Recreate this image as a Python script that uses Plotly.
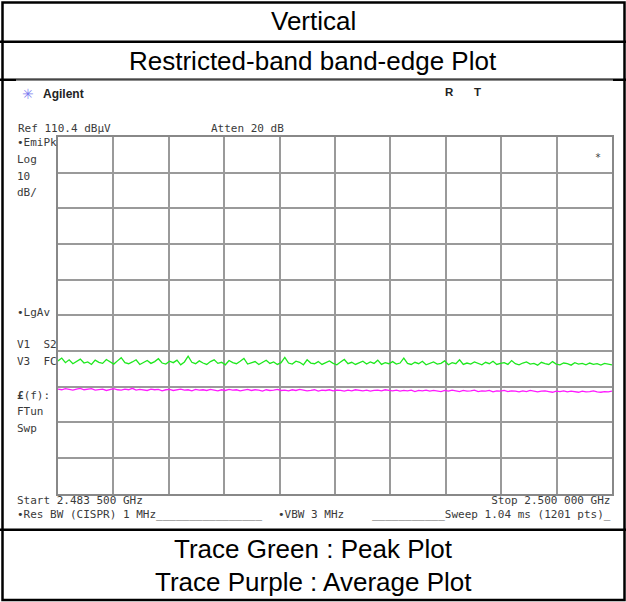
import numpy as np
import plotly.graph_objects as go

W, H = 626, 602

# ---------------- data ----------------
start_ghz = 2.4835
stop_ghz = 2.5000
ref_level = 110.4      # dBuV (top of screen)
db_per_div = 10

peak_trace = [
    47.6, 48.4, 47.1, 47.9, 46.8, 47.5, 48.1, 47.0, 47.3, 46.6, 47.8, 47.2, 46.9, 48.0, 47.4,
    46.7, 47.6, 48.5, 47.1, 46.8, 47.3, 47.9, 46.6, 47.2, 47.7, 46.9, 47.4, 48.2, 47.0, 46.7,
    47.5, 47.1, 47.8, 46.5, 47.3, 48.9, 47.2, 46.8, 47.6, 47.0, 46.6, 47.4, 47.9, 46.9, 47.2,
    46.5, 47.7, 47.1, 46.8, 47.5, 48.3, 46.7, 47.0, 47.4, 46.6, 47.2, 47.8, 46.9, 47.3, 46.6,
    47.1, 48.6, 47.0, 46.7, 47.5, 47.2, 46.5, 47.9, 47.0, 46.8, 47.4, 46.6, 47.1, 47.6, 46.9,
    46.5, 47.3, 48.0, 46.8, 47.2, 46.6, 47.0, 47.5, 46.7, 47.3, 46.9, 47.8, 46.6, 47.1, 46.8,
    47.4, 46.7, 47.0, 48.4, 46.9, 46.6, 47.2, 46.8, 47.5, 46.5, 47.0, 47.3, 46.7, 46.9, 47.6,
    46.5, 47.1, 46.8, 47.9, 46.6, 47.0, 46.7, 47.3, 46.9, 46.5, 47.2, 46.8, 47.5, 46.6, 46.9,
    47.1, 46.6, 47.7, 46.8, 46.5, 47.0, 47.3, 46.7, 46.9, 46.4, 47.2, 46.8, 46.6, 47.4, 46.7,
    46.5, 47.0, 46.8, 46.4, 47.1, 46.7, 46.9, 46.5, 47.0, 46.6, 46.8, 46.4, 46.9, 46.6, 46.5,
]

average_trace = [
    39.7, 39.5, 39.8, 39.6, 39.4, 39.7, 39.9, 39.5, 39.6, 39.8, 39.4, 39.6, 39.7, 39.3, 39.6,
    39.8, 39.5, 39.4, 39.7, 39.5, 39.9, 39.4, 39.6, 39.5, 39.3, 39.7, 39.5, 39.6, 39.2, 39.5,
    39.6, 39.3, 39.5, 39.7, 39.4, 39.5, 39.2, 39.6, 39.4, 39.5, 39.3, 39.6, 39.4, 39.2, 39.5,
    39.3, 39.6, 39.4, 39.5, 39.2, 39.4, 39.6, 39.3, 39.5, 39.4, 39.1, 39.5, 39.3, 39.4, 39.6,
    39.3, 39.4, 39.2, 39.5, 39.3, 39.6, 39.4, 39.2, 39.3, 39.5, 39.1, 39.4, 39.3, 39.5, 39.2,
    39.4, 39.3, 39.1, 39.4, 39.2, 39.5, 39.3, 39.2, 39.4, 39.1, 39.3, 39.4, 39.2, 39.5, 39.3,
    39.2, 39.4, 39.1, 39.3, 39.2, 39.4, 39.0, 39.3, 39.2, 39.4, 39.1, 39.3, 39.2, 39.0, 39.3,
    39.1, 39.4, 39.2, 39.0, 39.3, 39.1, 39.2, 39.4, 39.0, 39.2, 39.1, 39.3, 38.9, 39.2, 39.1,
    39.3, 39.0, 39.2, 39.1, 38.9, 39.2, 39.0, 39.3, 39.1, 38.9, 39.1, 39.2, 39.0, 38.8, 39.1,
    39.0, 39.2, 38.9, 39.1, 39.0, 38.8, 39.1, 38.9, 39.0, 39.2, 38.9, 38.8, 39.0, 38.9, 39.1,
]

title_lines = ["Vertical", "Restricted-band band-edge Plot"]
footer_lines = ["Trace Green : Peak Plot", "Trace Purple : Average Plot"]

freq_peak = np.linspace(start_ghz, stop_ghz, len(peak_trace))
freq_avg = np.linspace(start_ghz, stop_ghz, len(average_trace))


def px(x):
    return x / W


def py(y):
    return 1 - y / H


fig = go.Figure()
fig.add_trace(go.Scatter(x=freq_peak, y=peak_trace, mode="lines",
                         line=dict(color="#1ee81e", width=1.3), hoverinfo="skip"))
fig.add_trace(go.Scatter(x=freq_avg, y=average_trace, mode="lines",
                         line=dict(color="#ff1aff", width=1.3), hoverinfo="skip"))

grid_col = "#9a9a9a"
fig.update_xaxes(domain=[px(58), px(612)], range=[start_ghz, stop_ghz],
                 tick0=start_ghz, dtick=(stop_ghz - start_ghz) / 10,
                 showgrid=True, gridcolor=grid_col, gridwidth=1.5,
                 zeroline=False, showticklabels=False, ticks="",
                 showline=True, mirror=True, linecolor="#888888", linewidth=2)
fig.update_yaxes(domain=[py(493.5), py(137)],
                 range=[ref_level - 10 * db_per_div, ref_level],
                 tick0=ref_level, dtick=db_per_div,
                 showgrid=True, gridcolor=grid_col, gridwidth=1.5,
                 zeroline=False, showticklabels=False, ticks="",
                 showline=True, mirror=True, linecolor="#888888", linewidth=2)

shapes = []
# table borders
shapes.append(dict(type="rect", xref="paper", yref="paper",
                   x0=px(2.5), x1=px(624.5), y0=py(600), y1=py(2.5),
                   line=dict(color="black", width=2.5)))
for yy in (41.7, 79.7, 529.7):
    shapes.append(dict(type="line", xref="paper", yref="paper",
                       x0=0, x1=1, y0=py(yy), y1=py(yy),
                       line=dict(color="black", width=2.5)))
# screenshot top edge (gray)
shapes.append(dict(type="line", xref="paper", yref="paper",
                   x0=px(16), x1=px(613), y0=py(80.2), y1=py(80.2),
                   line=dict(color="#8c8c8c", width=1.5)))

ann = []


def txt(s, x, y, size=11, anchor="left", color="#3a3a3a", family="DejaVu Sans Mono", bold=False):
    if bold:
        s = "<b>" + s + "</b>"
    ann.append(dict(text=s, x=px(x), y=py(y), xref="paper", yref="paper",
                    xanchor=anchor, yanchor="middle", showarrow=False, align=anchor,
                    font=dict(size=size, color=color, family=family)))


# big titles
big = 26
txt(title_lines[0], 313, 21, size=big, anchor="center", color="black", family="Liberation Sans")
txt(title_lines[1], 313, 61, size=big, anchor="center", color="black", family="Liberation Sans")
txt(footer_lines[0], 313, 549, size=big, anchor="center", color="black", family="Liberation Sans")
txt(footer_lines[1], 313, 582, size=big, anchor="center", color="black", family="Liberation Sans")

# analyzer header
txt("✳", 27.5, 94, size=14, anchor="center", color="#7f7ff0", family="DejaVu Sans")
txt("Agilent", 41, 94, size=12, color="#222", family="Liberation Sans", bold=True)
txt("R", 449, 92, size=11.5, anchor="center", color="#222", family="Liberation Sans", bold=True)
txt("T", 477, 92, size=11.5, anchor="center", color="#222", family="Liberation Sans", bold=True)

txt("Ref 110.4 dBμV", 16, 128)
txt("Atten 20 dB", 209, 128)
txt("*", 598, 157, size=10, anchor="center")

left_labels = [("•EmiPk", 142.5), ("Log", 160), ("10", 176.5), ("dB/", 193),
               ("•LgAv", 312.5), ("V1  S2", 344), ("V3  FC", 361.5),
               ("<b>£</b>(f):", 395), ("FTun", 411.7), ("Swp", 428.3)]
for s, yy in left_labels:
    txt(s, 15, yy)

txt("Start 2.483 500 GHz<br>•Res BW (CISPR) 1 MHz" + "_" * 16, 15, 507.5)
txt("•VBW 3 MHz", 276, 514.5)
txt("Stop 2.500 000 GHz<br>" + "_" * 11 + "Sweep 1.04 ms (1201 pts)_", 613, 507.5, anchor="right")

fig.update_layout(width=W, height=H, margin=dict(l=0, r=0, t=0, b=0),
                  paper_bgcolor="white", plot_bgcolor="white",
                  showlegend=False, shapes=shapes, annotations=ann)

fig.write_html("out.html", config={"displayModeBar": False},
               post_script="document.body.style.margin='0px';document.body.style.overflow='hidden';")
